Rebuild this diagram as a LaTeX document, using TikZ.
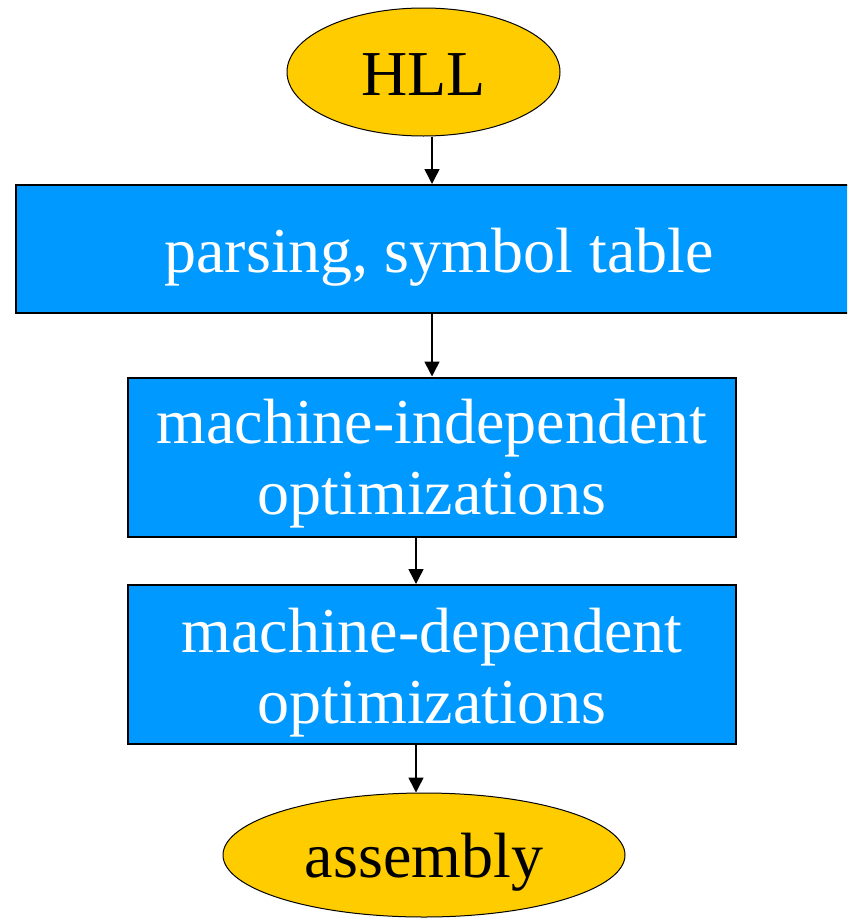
\documentclass[tikz,border=0pt]{standalone}
\usepackage{fontspec}
\setmainfont{Liberation Serif}
\usetikzlibrary{shapes.geometric,arrows.meta}
\definecolor{termfill}{HTML}{FFCC00}
\definecolor{stagefill}{HTML}{0099FF}
\tikzset{
  terminal/.style={ellipse, draw=black, line width=1pt, fill=termfill, inner sep=0pt},
  stagebox/.style={rectangle, draw=black, line width=2pt, fill=stagefill, inner sep=0pt},
  termtext/.style={inner sep=0pt, font=\fontsize{64}{71}\selectfont, text=black},
  stagetext/.style={inner sep=0pt, font=\fontsize{64}{71}\selectfont, text=white, align=center},
  flow/.style={line width=1.5pt, -{Triangle[length=15pt,width=15pt]}}
}
\begin{document}
\begin{tikzpicture}[x=1pt,y=-1pt]
  \useasboundingbox (0,0) rectangle (847,918);
  \clip (0,0) rectangle (847,918);
  % terminals
  \node[terminal, minimum width=273pt, minimum height=128pt] (hll) at (423.5,72) {};
  \node[terminal, minimum width=402pt, minimum height=124pt] (asm) at (424,855) {};
  % compiler stages
  \node[stagebox, minimum width=846pt, minimum height=128pt] (parse) at (439,249) {};
  \node[stagebox, minimum width=608pt, minimum height=159pt] (mi) at (432,457) {};
  \node[stagebox, minimum width=608pt, minimum height=159pt] (md) at (432,664.5) {};
  % captions, set a little below each shape's centre
  \node[termtext] (hllT) at ([yshift=-3pt]hll.center) {HLL};
  \node[termtext] (asmT) at ([yshift=-7pt]asm.center) {assembly};
  \node[stagetext] (parseT) at ([yshift=-8pt]parse.center) {parsing, symbol table};
  \node[stagetext] (miT) at ([yshift=-7pt]mi.center) {machine-independent\\optimizations};
  \node[stagetext] (mdT) at ([yshift=-8pt]md.center) {machine-dependent\\optimizations};
  % arrow columns
  \coordinate (colA) at (432,0);
  \coordinate (colB) at (416,0);
  \draw[flow] (hll.south -| colA) -- (parse.north -| colA);
  \draw[flow] (parse.south -| colA) -- (mi.north -| colA);
  \draw[flow] (mi.south -| colB) -- (md.north -| colB);
  \draw[flow] (md.south -| colB) -- (asm.north -| colB);
\end{tikzpicture}
\end{document}
